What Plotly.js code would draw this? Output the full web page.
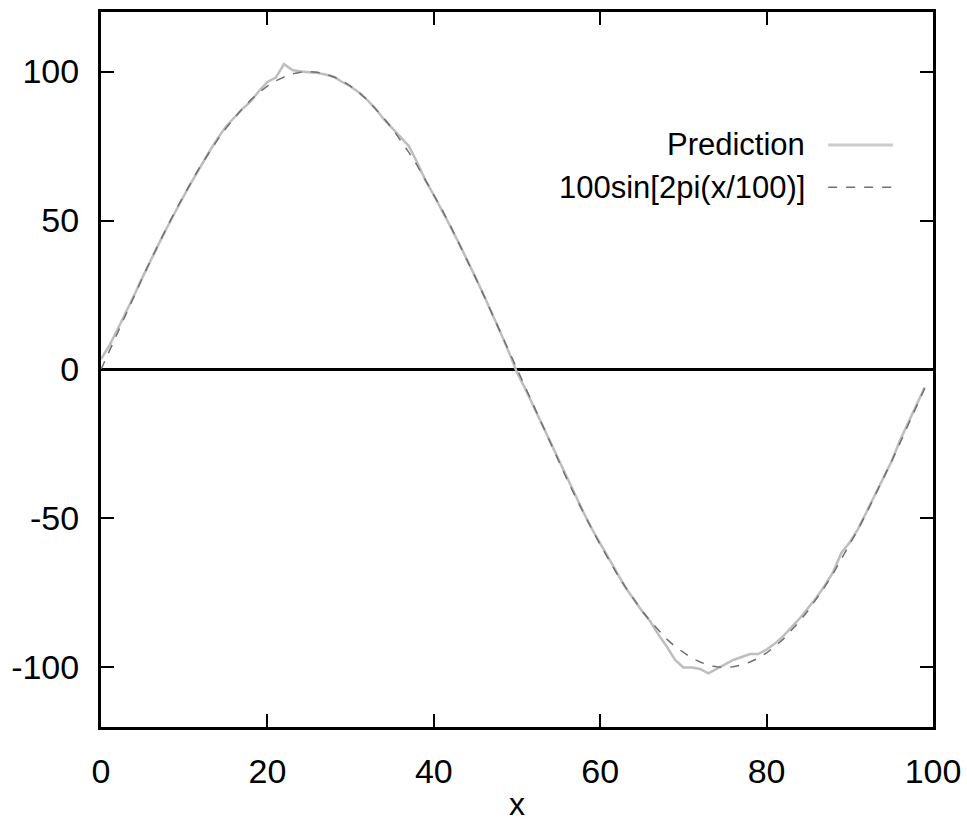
<!DOCTYPE html>
<html>
<head>
<meta charset="utf-8">
<script src="https://cdn.plot.ly/plotly-3.0.1.min.js"></script>
<style>html,body{margin:0;padding:0;background:#fff;}#chart{width:967px;height:822px;}</style>
</head>
<body>
<div id="chart"></div>
<script>
// ---- data ----
const xValues = [0,1,2,3,4,5,6,7,8,9,10,11,12,13,14,15,16,17,18,19,20,21,22,23,24,25,26,27,28,29,30,31,32,33,34,35,36,37,38,39,40,41,42,43,44,45,46,47,48,49,50,51,52,53,54,55,56,57,58,59,60,61,62,63,64,65,66,67,68,69,70,71,72,73,74,75,76,77,78,79,80,81,82,83,84,85,86,87,88,89,90,91,92,93,94,95,96,97,98,99];
const predictionValues = [3.5,8,13.5,19,25,31,37,42.5,48,53.5,58.5,63.5,68.5,73,77.5,81.5,84.5,87.5,90,93.5,96.5,98,102.5,100.5,100,99.8,99.5,99,98.2,96.5,95,93,90.5,87.5,84,81,78,75,69.5,63.5,58.5,53.5,48,42.5,37,31,25,19,12.5,6,-1,-6.5,-12.5,-18.5,-24.5,-30.5,-36.5,-42.5,-48,-53.5,-58.5,-63.5,-68.5,-73,-77,-81,-84.5,-89,-93,-97.5,-100,-100,-100.5,-102,-100.5,-99,-97.5,-96.5,-95.5,-95.5,-94,-92,-89.5,-86.5,-83.5,-80,-76.5,-72.5,-68,-61.5,-58,-53.5,-48,-42.5,-37,-31,-24,-18,-12,-6];
const sineValues = [0,6.3,12.5,18.7,24.9,30.9,36.8,42.6,48.2,53.6,58.8,63.7,68.5,72.9,77.1,80.9,84.4,87.6,90.5,93,95.1,96.9,98.2,99.2,99.8,100,99.8,99.2,98.2,96.9,95.1,93,90.5,87.6,84.4,80.9,77.1,72.9,68.5,63.7,58.8,53.6,48.2,42.6,36.8,30.9,24.9,18.7,12.5,6.3,0,-6.3,-12.5,-18.7,-24.9,-30.9,-36.8,-42.6,-48.2,-53.6,-58.8,-63.7,-68.5,-72.9,-77.1,-80.9,-84.4,-87.6,-90.5,-93,-95.1,-96.9,-98.2,-99.2,-99.8,-100,-99.8,-99.2,-98.2,-96.9,-95.1,-93,-90.5,-87.6,-84.4,-80.9,-77.1,-72.9,-68.5,-63.7,-58.8,-53.6,-48.2,-42.6,-36.8,-30.9,-24.9,-18.7,-12.5,-6.3];
const seriesNames = ["Prediction", "100sin[2pi(x/100)]"];
const xTicks = [0,20,40,60,80,100];
const yTicks = [-100,-50,0,50,100];
const xTitle = "x";

// ---- styles ----
const predColor = "#bebebe";
const sineColor = "#707070";
const font = "Liberation Sans, Arial, sans-serif";

const traces = [
  {x: xValues, y: predictionValues, name: seriesNames[0], type: "scatter", mode: "lines",
   line: {color: predColor, width: 2.5}, showlegend: false, hoverinfo: "skip"},
  {x: xValues, y: sineValues, name: seriesNames[1], type: "scatter", mode: "lines",
   line: {color: sineColor, width: 1.5, dash: "dash"}, showlegend: false, hoverinfo: "skip"}
];

const axisCommon = {
  showline: true, linecolor: "#000", linewidth: 3, mirror: "ticks",
  ticks: "inside", ticklen: 13, tickwidth: 2, tickcolor: "#000",
  showgrid: false, tickfont: {family: font, size: 34, color: "#000"}
};

const legY1 = 0.814, legY2 = 0.755, legTextX = 0.848, legL0 = 0.874, legL1 = 0.952;

const layout = {
  width: 967, height: 822,
  margin: {l: 101, r: 34, t: 12, b: 95},
  paper_bgcolor: "#fff", plot_bgcolor: "#fff",
  showlegend: false,
  xaxis: Object.assign({}, axisCommon, {
    range: [0, 100], tickvals: xTicks, ticktext: xTicks.map(String),
    zeroline: false, ticklabelstandoff: 12,
    title: {text: xTitle, font: {family: font, size: 32, color: "#000"}, standoff: 8}
  }),
  yaxis: Object.assign({}, axisCommon, {
    range: [-120, 120], tickvals: yTicks, ticktext: yTicks.map(String),
    zeroline: true, zerolinecolor: "#000", zerolinewidth: 3, ticklabelstandoff: 12
  }),
  annotations: [
    {xref: "paper", yref: "paper", x: legTextX, y: legY1, xanchor: "right", yanchor: "middle",
     text: seriesNames[0], showarrow: false, font: {family: font, size: 31, color: "#000"}},
    {xref: "paper", yref: "paper", x: legTextX, y: legY2, xanchor: "right", yanchor: "middle",
     text: seriesNames[1], showarrow: false, font: {family: font, size: 31, color: "#000"}}
  ],
  shapes: [
    {type: "line", xref: "paper", yref: "paper", x0: legL0, x1: legL1, y0: legY1, y1: legY1,
     line: {color: "#cccccc", width: 3}},
    {type: "line", xref: "paper", yref: "paper", x0: legL0, x1: legL1, y0: legY2, y1: legY2,
     line: {color: sineColor, width: 1.5, dash: "dash"}}
  ]
};

Plotly.newPlot("chart", traces, layout, {staticPlot: true, displayModeBar: false});
</script>
</body>
</html>
